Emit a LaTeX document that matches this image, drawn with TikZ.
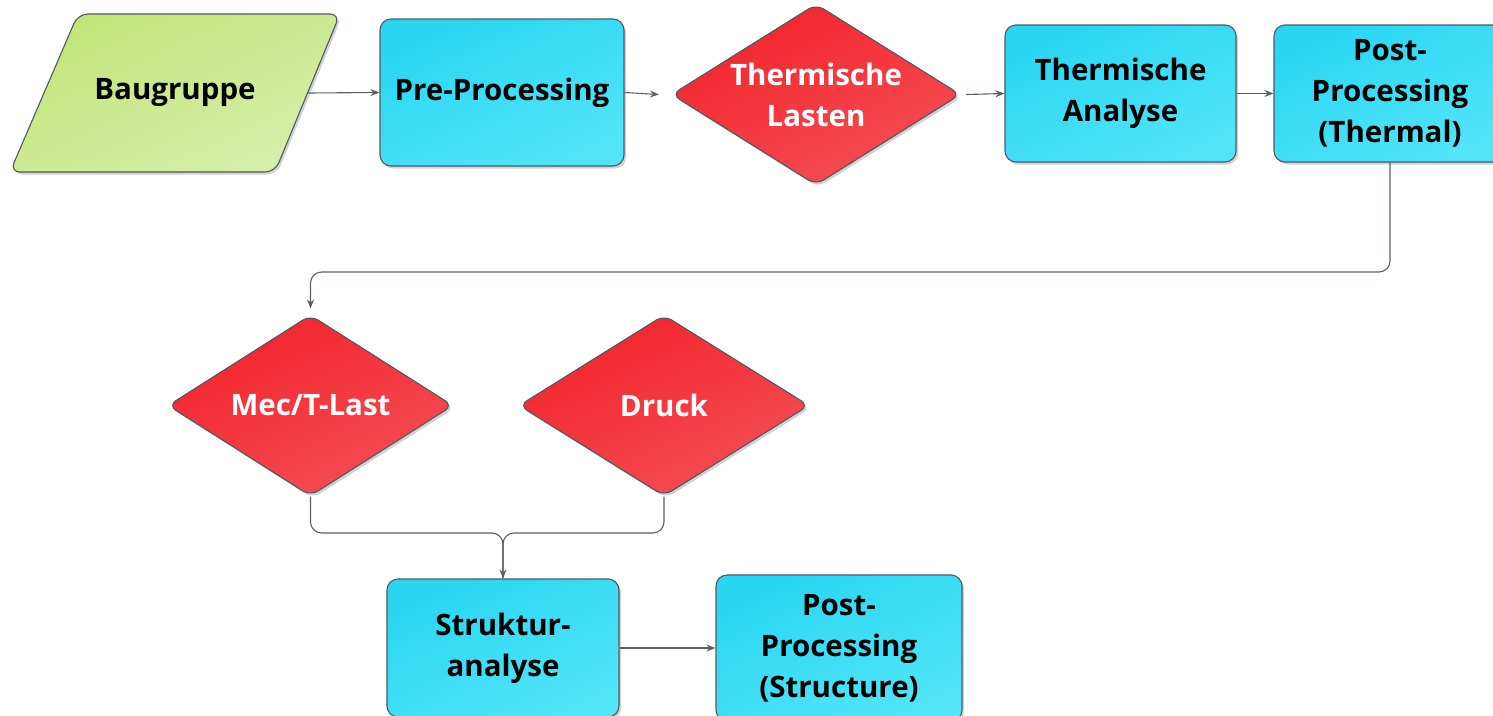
\documentclass[tikz,border=0pt]{standalone}
\usepackage{fontspec}
\setmainfont{Open Sans}
\usetikzlibrary{shapes.geometric,arrows.meta,shadows}

\definecolor{cyanA}{HTML}{28D6F2}
\definecolor{cyanB}{HTML}{52E5F8}
\definecolor{redA}{HTML}{F2242B}
\definecolor{redB}{HTML}{F54D55}
\definecolor{greenA}{HTML}{C2E57A}
\definecolor{greenB}{HTML}{D6EEAA}
\definecolor{edge}{HTML}{505862}
\definecolor{wire}{HTML}{5A5F6A}

\tikzset{
  softshadow/.style={drop shadow={shadow xshift=2pt, shadow yshift=-2.5pt, opacity=0.18, fill=black}},
  label font/.style={font=\fontsize{29.5}{41}\selectfont\bfseries, align=center, inner sep=0pt},
  procbox/.style={label font, draw=edge, line width=1.1pt, rounded corners=11pt,
    top color=cyanA, bottom color=cyanB, shading angle=25, softshadow, text=black},
  loadbox/.style={label font, shape=diamond, shape aspect=1.58, inner sep=-14pt,
    draw=edge, line width=1.1pt, rounded corners=9pt,
    top color=redA, bottom color=redB, shading angle=25, softshadow, text=white,
    minimum width=289pt, minimum height=181pt},
  inputshape/.style={draw=edge, line width=1.1pt, rounded corners=10pt,
    top color=greenA, bottom color=greenB, shading angle=25, softshadow},
  plain label/.style={label font, text=black},
  wire/.style={draw=wire, line width=1.1pt},
  flow/.style={wire, -{Stealth[length=9pt, width=7pt]}},
}

\begin{document}
\begin{tikzpicture}[x=1pt, y=-1pt]
\useasboundingbox (0,0) rectangle (1493,715);
\begin{scope}
\clip (0,0) rectangle (1493,715);

% input: slanted data block
\path[inputshape] (78,14) -- (340,14) -- (275,172) -- (10,172) -- cycle;
\node[plain label] (baug) at (175,93) {Baugruppe};
\coordinate (baugout) at (308,93);

% first row: thermal chain
\node[procbox, minimum width=244pt, minimum height=147pt] (pre) at (502,92.5) {Pre-Processing};
\node[loadbox] (tlast) at (816,94.5) {Thermische\\Lasten};
\node[procbox, minimum width=231pt, minimum height=137pt] (tana) at (1120.5,93.5) {Thermische\\Analyse};
\node[procbox, minimum width=232pt, minimum height=137pt] (tpost) at (1390,93.5) {Post-\\Processing\\(Thermal)};

% second row: load cases
\node[loadbox, minimum width=285pt] (mec) at (310.5,405.5) {Mec/T-Last};
\node[loadbox, minimum width=290pt] (druck) at (664,405.5) {Druck};

% third row: structural chain
\node[procbox, minimum width=232pt, minimum height=138pt] (sana) at (503,648) {Struktur-\\analyse};
\node[procbox, minimum width=246pt, minimum height=146pt] (spost) at (839,648) {Post-\\Processing\\(Structure)};

% helper points for routed connectors
\coordinate (loopy) at (0,272);
\coordinate (merge) at (503,533);

% connectors
\draw[flow] (baugout) -- (pre.west);
\draw[flow] (pre.east) -- ([xshift=-12pt]tlast.west);
\draw[flow] ([xshift=5pt]tlast.east) -- (tana.west);
\draw[flow] (tana.east) -- (tpost.west);
\draw[flow, rounded corners=11pt, shorten >=6pt] (tpost.south) -- (tpost.south |- loopy) -| (mec.north);
\draw[wire, rounded corners=11pt] (druck.south) |- (merge) -- (sana.north);
\draw[flow, rounded corners=11pt] (mec.south) |- (merge) -- (sana.north);
\draw[flow] (sana.east) -- (spost.west);
\end{scope}
\end{tikzpicture}
\end{document}
